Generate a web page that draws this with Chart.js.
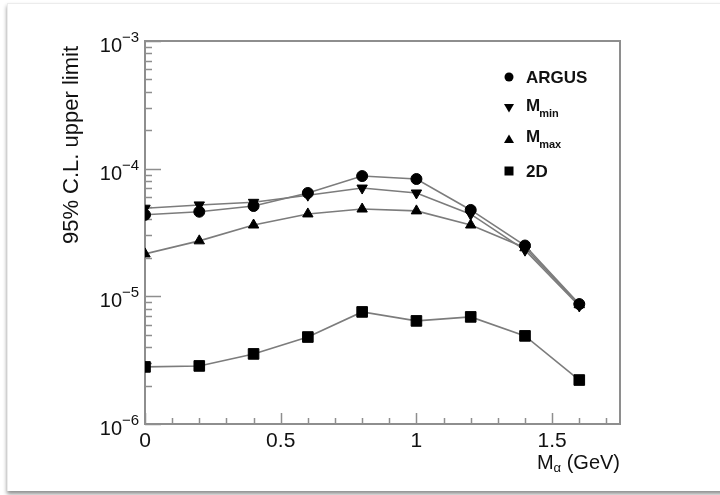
<!DOCTYPE html>
<html>
<head>
<meta charset="utf-8">
<script src="https://cdn.jsdelivr.net/npm/chart.js@4/dist/chart.umd.min.js"></script>
<style>
  html, body { margin: 0; padding: 0; background: #fff; overflow: hidden; }
  body { width: 720px; height: 495px; position: relative; }
  .card {
    position: absolute; left: 7px; top: 3px; width: 720px; height: 487px;
    background: #fff; border-left: 1px solid #ececec; border-top: 1px solid #ececec;
    box-shadow: 0 3px 4px rgba(0, 0, 0, 0.45);
  }
  #limitChart { position: absolute; left: 0; top: 0; }
</style>
</head>
<body>
<div class="card"></div>
<canvas id="limitChart" width="720" height="495"></canvas>
<script>
// 質量の点 (GeV)
var massValues = [0, 0.2, 0.4, 0.6, 0.8, 1.0, 1.2, 1.4, 1.6];

// 95% C.L. 上限値
var argusLimit = [4.35e-5, 4.6e-5, 5.1e-5, 6.45e-5, 8.75e-5, 8.3e-5, 4.75e-5, 2.5e-5, 8.7e-6];
var mMinLimit = [4.9e-5, 5.2e-5, 5.45e-5, 6.2e-5, 7.05e-5, 6.45e-5, 4.4e-5, 2.3e-5, 8.4e-6];
var mMaxLimit = [2.15e-5, 2.72e-5, 3.62e-5, 4.42e-5, 4.83e-5, 4.67e-5, 3.62e-5, 2.4e-5, 8.6e-6];
var twoDLimit = [2.8e-6, 2.85e-6, 3.54e-6, 4.8e-6, 7.55e-6, 6.42e-6, 6.9e-6, 4.9e-6, 2.21e-6];

// 軸の目盛り
var xTickValues = [0, 0.5, 1, 1.5];
var xTickLabels = ['0', '0.5', '1', '1.5'];
var yTickValues = [1e-6, 1e-5, 1e-4, 1e-3];
var yTickExponents = ['\u22126', '\u22125', '\u22124', '\u22123'];

var FONT = '"Liberation Sans", Arial, Helvetica, sans-serif';
var FRAME = '#8e8e8e';
var INK = '#111';

//点データを作成する
function toPoints(values) {
    var pts = [];
    for (var i = 0; i < massValues.length; i++) {
        pts.push({ x: massValues[i], y: values[i] });
    }
    return pts;
}

function series(label, values, style, radius, rotation) {
    return {
        label: label,
        data: toPoints(values),
        borderColor: '#7c7c7c',
        borderWidth: 1.6,
        tension: 0,
        pointStyle: style,
        pointRadius: radius,
        pointRotation: rotation,
        pointBackgroundColor: '#000',
        pointBorderColor: '#000',
        pointBorderWidth: 1
    };
}

//枠と目盛りを描く
var framePlugin = {
    id: 'frame',
    beforeDatasetsDraw: function (chart) {
        var ctx = chart.ctx;
        var a = chart.chartArea;
        var xs = chart.scales.x;
        var ys = chart.scales.y;
        ctx.save();
        ctx.strokeStyle = FRAME;
        ctx.lineWidth = 2;
        ctx.strokeRect(a.left, a.top, a.right - a.left, a.bottom - a.top);

        ctx.lineWidth = 1.5;
        ctx.beginPath();
        // x 目盛り (0.1 ごと)
        for (var k = 0; k <= 17; k++) {
            var v = k / 10;
            var px = Math.round(xs.getPixelForValue(v)) + 0.5;
            var len = (k % 5 == 0) ? 11 : 6;
            ctx.moveTo(px, a.bottom);
            ctx.lineTo(px, a.bottom - len);
        }
        // y 目盛り (対数)
        for (var d = -6; d < -3; d++) {
            for (var m = 1; m <= 9; m++) {
                var val = m * Math.pow(10, d);
                var py = Math.round(ys.getPixelForValue(val)) + 0.5;
                var l = (m == 1) ? 16 : 7;
                ctx.moveTo(a.left, py);
                ctx.lineTo(a.left + l, py);
            }
        }
        var topY = Math.round(ys.getPixelForValue(1e-3)) + 0.5;
        ctx.moveTo(a.left, topY);
        ctx.lineTo(a.left + 16, topY);
        ctx.stroke();
        ctx.restore();
    },
    afterDraw: function (chart) {
        var ctx = chart.ctx;
        var a = chart.chartArea;
        var xs = chart.scales.x;
        var ys = chart.scales.y;
        ctx.save();
        ctx.fillStyle = INK;

        // x ラベル
        ctx.font = '21px ' + FONT;
        ctx.textAlign = 'center';
        ctx.textBaseline = 'alphabetic';
        for (var i = 0; i < xTickValues.length; i++) {
            ctx.fillText(xTickLabels[i], xs.getPixelForValue(xTickValues[i]), a.bottom + 23);
        }

        // y ラベル 10^n
        for (var j = 0; j < yTickValues.length; j++) {
            var ty = ys.getPixelForValue(yTickValues[j]);
            ctx.font = '20px ' + FONT;
            ctx.textAlign = 'right';
            ctx.fillText('10', 122, ty + 11);
            ctx.font = '15px ' + FONT;
            ctx.textAlign = 'left';
            ctx.fillText(yTickExponents[j], 122, ty + 1);
        }

        // x 軸タイトル  M_alpha (GeV)
        var base = a.bottom + 45;
        ctx.font = '20px ' + FONT;
        var w1 = ctx.measureText('M').width;
        var w3 = ctx.measureText(' (GeV)').width;
        ctx.font = '13px ' + FONT;
        var w2 = ctx.measureText('\u03b1').width;
        var x0 = a.right - (w1 + w2 + w3);
        ctx.textAlign = 'left';
        ctx.font = '20px ' + FONT;
        ctx.fillText('M', x0, base);
        ctx.font = '13px ' + FONT;
        ctx.fillText('\u03b1', x0 + w1, base + 3);
        ctx.font = '20px ' + FONT;
        ctx.fillText(' (GeV)', x0 + w1 + w2, base);

        // y 軸タイトル
        ctx.save();
        ctx.translate(78, 145);
        ctx.rotate(-Math.PI / 2);
        ctx.font = '22px ' + FONT;
        ctx.textAlign = 'center';
        ctx.fillText('95% C.L. upper limit', 0, 0);
        ctx.restore();

        // 凡例
        var legendX = 509;
        var textX = 526;
        var rows = chart.data.datasets;
        var rowY = [77, 108, 139, 171];
        ctx.fillStyle = '#000';
        for (var r = 0; r < rows.length; r++) {
            drawMarker(ctx, rows[r].pointStyle, rows[r].pointRotation, legendX, rowY[r]);
        }
        ctx.fillStyle = INK;
        ctx.textAlign = 'left';
        ctx.font = 'bold 17px ' + FONT;
        ctx.fillText('ARGUS', textX, rowY[0] + 6);
        var wm = ctx.measureText('M').width;
        ctx.fillText('M', textX, rowY[1] + 3);
        ctx.fillText('M', textX, rowY[2] + 3);
        ctx.fillText('2D', textX, rowY[3] + 6);
        ctx.font = 'bold 11px ' + FONT;
        ctx.fillText('min', textX + wm - 1, rowY[1] + 9);
        ctx.fillText('max', textX + wm - 1, rowY[2] + 9);
        ctx.restore();
    }
};

//凡例のマーカーを描く
function drawMarker(ctx, style, rotation, x, y) {
    ctx.beginPath();
    if (style == 'circle') {
        ctx.arc(x, y, 4.5, 0, Math.PI * 2);
    } else if (style == 'rect') {
        ctx.rect(x - 4.5, y - 4.5, 9, 9);
    } else if (rotation == 180) {
        ctx.moveTo(x - 5, y - 4);
        ctx.lineTo(x + 5, y - 4);
        ctx.lineTo(x, y + 4.5);
    } else {
        ctx.moveTo(x - 5, y + 4);
        ctx.lineTo(x + 5, y + 4);
        ctx.lineTo(x, y - 4.5);
    }
    ctx.closePath();
    ctx.fill();
}

const config = {
    type: 'line',
    data: {
        datasets: [
            series('ARGUS', argusLimit, 'circle', 5.5, 0),
            series('Mmin', mMinLimit, 'triangle', 6, 180),
            series('Mmax', mMaxLimit, 'triangle', 6, 0),
            series('2D', twoDLimit, 'rect', 7.5, 0)
        ]
    },
    options: {
        responsive: false,
        animation: false,
        layout: {
            padding: { left: 145, right: 100, top: 41, bottom: 71 }
        },
        plugins: {
            legend: { display: false },
            tooltip: { enabled: false }
        },
        scales: {
            x: { type: 'linear', min: 0, max: 1.75, display: false },
            y: { type: 'logarithmic', min: 1e-6, max: 1e-3, display: false }
        }
    },
    plugins: [framePlugin]
};

//chart図を作成する
var limitChart = new Chart(document.getElementById('limitChart'), config);
</script>
</body>
</html>
